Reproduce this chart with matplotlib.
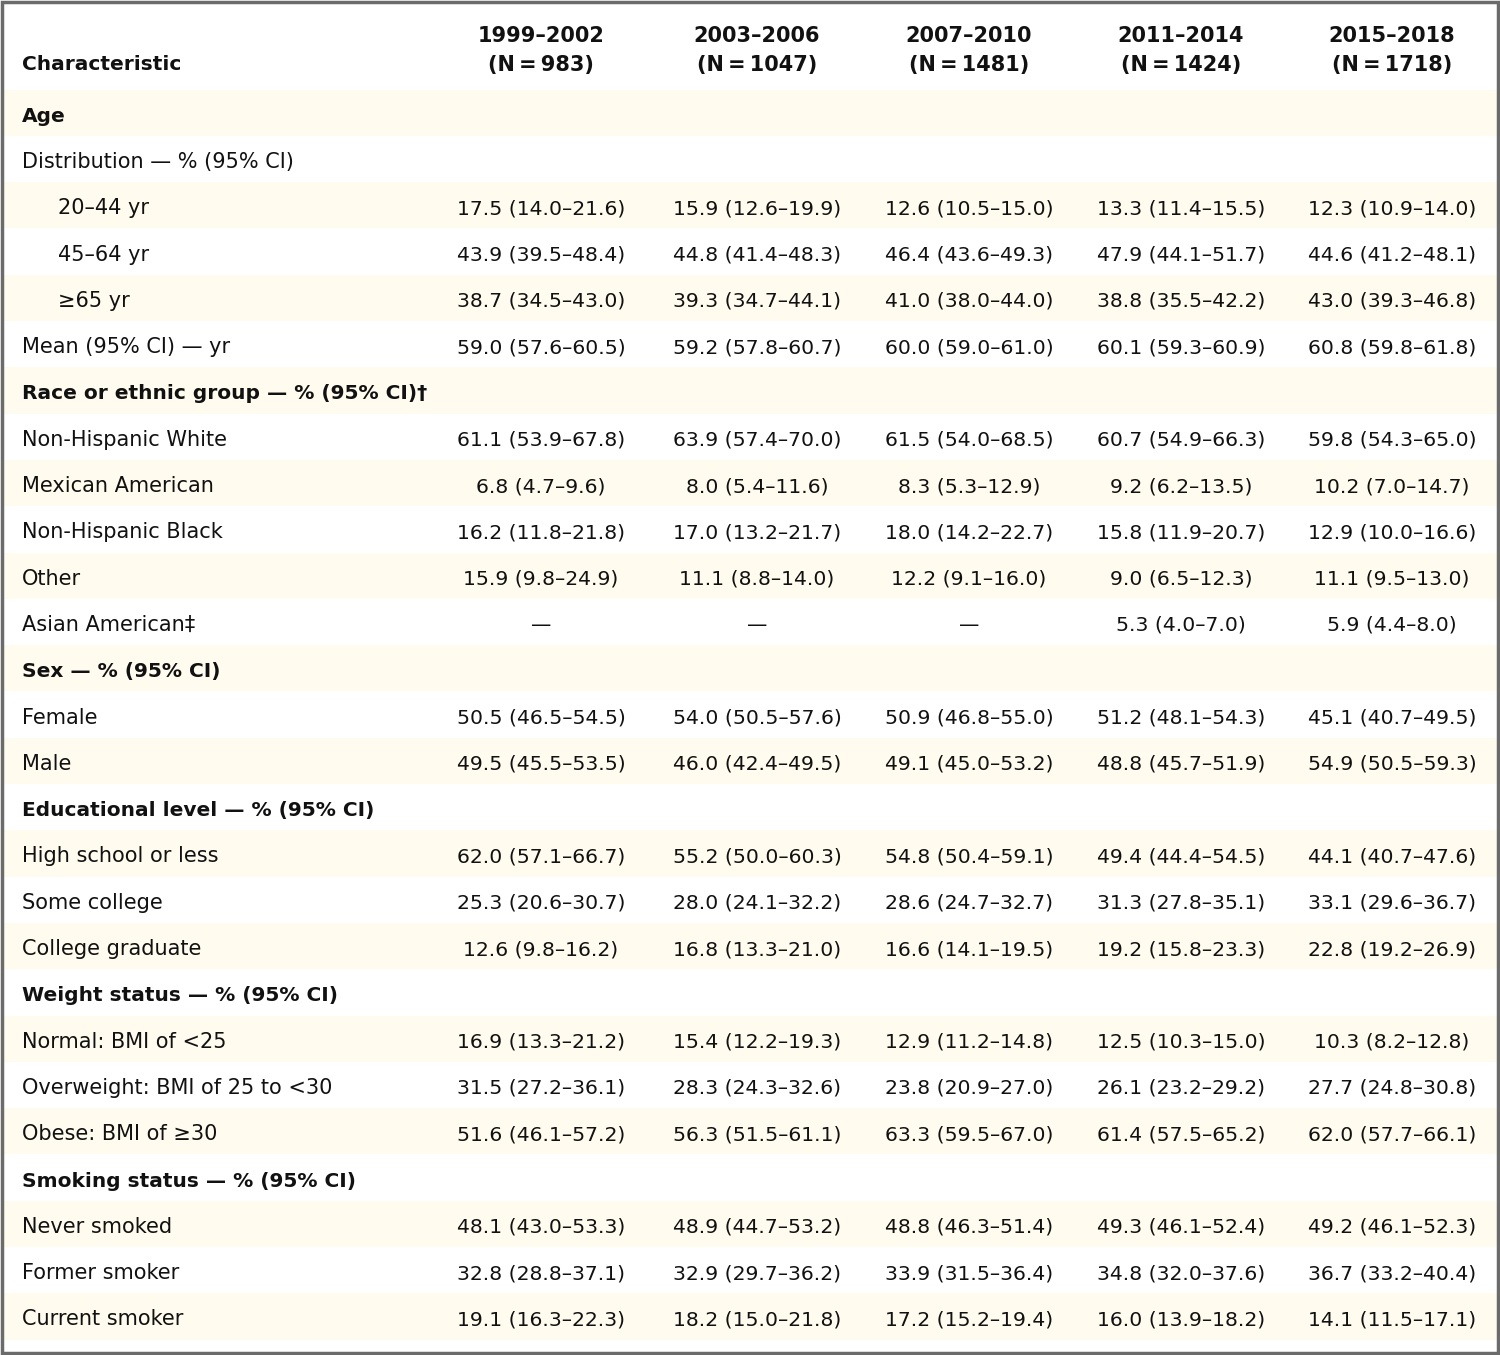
import matplotlib
matplotlib.use("Agg")
import matplotlib.pyplot as plt

plt.rcParams["font.family"] = ["DejaVu Sans"]

BAND = "#fffbee"
FRAME = "#6b6b6b"
INK = "#111111"
FS_NUM = 14.7    # numbers in cells
FS_LAB = 15.0    # plain row labels
FS_HEAD = 14.5   # bold section headings
FS_COL = 15.0    # column headers

periods = ["1999–2002", "2003–2006", "2007–2010", "2011–2014", "2015–2018"]
sizes = [983, 1047, 1481, 1424, 1718]

# label, style: "h" = bold section heading, "i" = indented, "" = plain
labels = [
    ("Age", "h"), ("Distribution — % (95% CI)", ""), ("20–44 yr", "i"), ("45–64 yr", "i"),
    ("≥65 yr", "i"), ("Mean (95% CI) — yr", ""),
    ("Race or ethnic group — % (95% CI)†", "h"), ("Non-Hispanic White", ""), ("Mexican American", ""),
    ("Non-Hispanic Black", ""), ("Other", ""), ("Asian American‡", ""),
    ("Sex — % (95% CI)", "h"), ("Female", ""), ("Male", ""),
    ("Educational level — % (95% CI)", "h"), ("High school or less", ""), ("Some college", ""),
    ("College graduate", ""),
    ("Weight status — % (95% CI)", "h"), ("Normal: BMI of <25", ""), ("Overweight: BMI of 25 to <30", ""),
    ("Obese: BMI of ≥30", ""),
    ("Smoking status — % (95% CI)", "h"), ("Never smoked", ""), ("Former smoker", ""), ("Current smoker", ""),
]

col_1999 = ["", "", "17.5 (14.0–21.6)", "43.9 (39.5–48.4)", "38.7 (34.5–43.0)", "59.0 (57.6–60.5)",
            "", "61.1 (53.9–67.8)", "6.8 (4.7–9.6)", "16.2 (11.8–21.8)", "15.9 (9.8–24.9)", "—",
            "", "50.5 (46.5–54.5)", "49.5 (45.5–53.5)",
            "", "62.0 (57.1–66.7)", "25.3 (20.6–30.7)", "12.6 (9.8–16.2)",
            "", "16.9 (13.3–21.2)", "31.5 (27.2–36.1)", "51.6 (46.1–57.2)",
            "", "48.1 (43.0–53.3)", "32.8 (28.8–37.1)", "19.1 (16.3–22.3)"]
col_2003 = ["", "", "15.9 (12.6–19.9)", "44.8 (41.4–48.3)", "39.3 (34.7–44.1)", "59.2 (57.8–60.7)",
            "", "63.9 (57.4–70.0)", "8.0 (5.4–11.6)", "17.0 (13.2–21.7)", "11.1 (8.8–14.0)", "—",
            "", "54.0 (50.5–57.6)", "46.0 (42.4–49.5)",
            "", "55.2 (50.0–60.3)", "28.0 (24.1–32.2)", "16.8 (13.3–21.0)",
            "", "15.4 (12.2–19.3)", "28.3 (24.3–32.6)", "56.3 (51.5–61.1)",
            "", "48.9 (44.7–53.2)", "32.9 (29.7–36.2)", "18.2 (15.0–21.8)"]
col_2007 = ["", "", "12.6 (10.5–15.0)", "46.4 (43.6–49.3)", "41.0 (38.0–44.0)", "60.0 (59.0–61.0)",
            "", "61.5 (54.0–68.5)", "8.3 (5.3–12.9)", "18.0 (14.2–22.7)", "12.2 (9.1–16.0)", "—",
            "", "50.9 (46.8–55.0)", "49.1 (45.0–53.2)",
            "", "54.8 (50.4–59.1)", "28.6 (24.7–32.7)", "16.6 (14.1–19.5)",
            "", "12.9 (11.2–14.8)", "23.8 (20.9–27.0)", "63.3 (59.5–67.0)",
            "", "48.8 (46.3–51.4)", "33.9 (31.5–36.4)", "17.2 (15.2–19.4)"]
col_2011 = ["", "", "13.3 (11.4–15.5)", "47.9 (44.1–51.7)", "38.8 (35.5–42.2)", "60.1 (59.3–60.9)",
            "", "60.7 (54.9–66.3)", "9.2 (6.2–13.5)", "15.8 (11.9–20.7)", "9.0 (6.5–12.3)", "5.3 (4.0–7.0)",
            "", "51.2 (48.1–54.3)", "48.8 (45.7–51.9)",
            "", "49.4 (44.4–54.5)", "31.3 (27.8–35.1)", "19.2 (15.8–23.3)",
            "", "12.5 (10.3–15.0)", "26.1 (23.2–29.2)", "61.4 (57.5–65.2)",
            "", "49.3 (46.1–52.4)", "34.8 (32.0–37.6)", "16.0 (13.9–18.2)"]
col_2015 = ["", "", "12.3 (10.9–14.0)", "44.6 (41.2–48.1)", "43.0 (39.3–46.8)", "60.8 (59.8–61.8)",
            "", "59.8 (54.3–65.0)", "10.2 (7.0–14.7)", "12.9 (10.0–16.6)", "11.1 (9.5–13.0)", "5.9 (4.4–8.0)",
            "", "45.1 (40.7–49.5)", "54.9 (50.5–59.3)",
            "", "44.1 (40.7–47.6)", "33.1 (29.6–36.7)", "22.8 (19.2–26.9)",
            "", "10.3 (8.2–12.8)", "27.7 (24.8–30.8)", "62.0 (57.7–66.1)",
            "", "49.2 (46.1–52.3)", "36.7 (33.2–40.4)", "14.1 (11.5–17.1)"]
columns = [col_1999, col_2003, col_2007, col_2011, col_2015]

W, H = 1500, 1355
fig = plt.figure(figsize=(W / 100, H / 100), dpi=100)
ax = fig.add_axes([0, 0, 1, 1])
ax.set_xlim(0, W)
ax.set_ylim(H, 0)
ax.axis("off")

top, pitch = 89.5, 46.3
col_x = [541, 757, 969, 1181, 1392]

# header (baselines)
ax.text(22, 70.5, "Characteristic", fontsize=FS_HEAD, fontweight="bold", va="baseline", ha="left", color=INK)
for x, p, n in zip(col_x, periods, sizes):
    ax.text(x, 42, p, fontsize=FS_COL, fontweight="bold", va="baseline", ha="center", color=INK)
    ax.text(x, 70.5, f"(N\u2009=\u2009{n})", fontsize=FS_COL, fontweight="bold", va="baseline",
            ha="center", color=INK)

for i, (lab, kind) in enumerate(labels):
    y0 = top + i * pitch
    if i % 2 == 0:
        ax.axhspan(y0, y0 + pitch, xmin=0.002, xmax=0.998, color=BAND, lw=0, zorder=0)
    yb = y0 + pitch / 2 + 9
    if kind == "h":
        ax.text(22, yb, lab, fontsize=FS_HEAD, fontweight="bold", va="baseline", ha="left", color=INK)
    else:
        ax.text(58 if kind == "i" else 22, yb, lab, fontsize=FS_LAB, va="baseline", ha="left", color=INK)
    for x, col in zip(col_x, columns):
        if col[i]:
            ax.text(x, yb, col[i], fontsize=FS_NUM, va="baseline", ha="center", color=INK)

# outer frame
ax.add_patch(plt.Rectangle((1.5, 1.5), W - 4, H - 4, fill=False, ec=FRAME, lw=2.5, zorder=5))

fig.savefig("out.png", dpi=100, facecolor="white")
plt.close(fig)
